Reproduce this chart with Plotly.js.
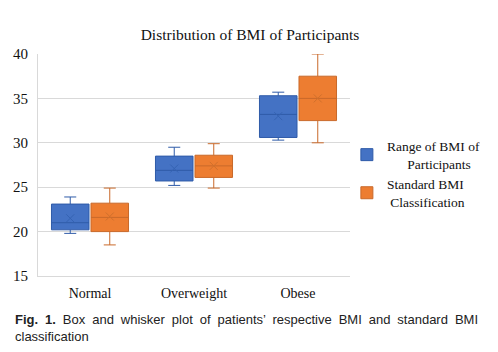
<!DOCTYPE html>
<html>
<head>
<meta charset="utf-8">
<script src="https://cdn.plot.ly/plotly-3.0.1.min.js"></script>
<style>
  html, body { margin: 0; padding: 0; background: #fff; }
  #wrap { position: relative; width: 498px; height: 352px; overflow: hidden; }
  #chart { position: absolute; left: 0; top: 0; width: 498px; height: 352px; }
  #caption { position: absolute; left: 15px; top: 311px; width: 463px;
             font-family: "Liberation Sans", Arial, sans-serif; font-size: 13px; color: #222; line-height: 17px; }
  #caption .l1 { text-align: justify; text-align-last: justify; white-space: nowrap; }
</style>
</head>
<body>
<div id="wrap">
  <div id="chart"></div>
  <div id="caption">
    <div class="l1"><b>Fig. 1.</b> Box and whisker plot of patients’ respective BMI and standard BMI</div>
    <div>classification</div>
  </div>
</div>
<script>
const categories = ["Normal", "Overweight", "Obese"];
const seriesNames = ["Range of BMI of<br>\u00a0\u00a0\u00a0\u00a0\u00a0\u00a0Participants", "Standard BMI<br>\u00a0Classification"];

// Range of BMI of Participants
const rangeMin    = [19.8, 25.2, 30.3];
const rangeQ1     = [20.2, 25.7, 30.6];
const rangeMedian = [21.0, 26.9, 33.2];
const rangeQ3     = [23.1, 28.5, 35.3];
const rangeMax    = [23.9, 29.5, 35.7];
const rangeMean   = [21.5, 27.1, 33.0];

// Standard BMI Classification
const stdMin    = [18.5, 24.9, 30.0];
const stdQ1     = [20.0, 26.1, 32.5];
const stdMedian = [21.6, 27.4, 35.0];
const stdQ3     = [23.2, 28.6, 37.5];
const stdMax    = [24.9, 29.9, 40.0];
const stdMean   = [21.7, 27.4, 35.0];

const fills = ["#4472C4", "#ED7D31"];
const lines = ["#2F5BA8", "#C9692A"];
const meanColors = ["#3563B3", "#D0702C"];

function boxTrace(i, q1, med, q3, lo, hi) {
  return {
    type: "box", name: seriesNames[i], x: categories,
    q1: q1, median: med, q3: q3, lowerfence: lo, upperfence: hi,
    fillcolor: fills[i], line: { color: lines[i], width: 1 },
    whiskerwidth: 0.32, boxpoints: false, offsetgroup: "g" + i,
    hoverinfo: "y"
  };
}
function meanTrace(i, mean) {
  return {
    type: "scatter", mode: "markers", x: categories, y: mean,
    offsetgroup: "g" + i, showlegend: false,
    marker: { symbol: "x-thin", size: 8, line: { color: meanColors[i], width: 1 } },
    hoverinfo: "y"
  };
}

const data = [
  boxTrace(0, rangeQ1, rangeMedian, rangeQ3, rangeMin, rangeMax),
  boxTrace(1, stdQ1, stdMedian, stdQ3, stdMin, stdMax),
  meanTrace(0, rangeMean),
  meanTrace(1, stdMean)
];

const serif = "Liberation Serif, Times New Roman, serif";
const layout = {
  width: 498, height: 352,
  margin: { l: 38, r: 146, t: 54, b: 76 },
  paper_bgcolor: "#fff", plot_bgcolor: "#fff",
  title: { text: "Distribution of BMI of Participants", font: { family: serif, size: 15.5, color: "#111" },
           x: 0.502, xref: "container", xanchor: "center", y: 0.903, yref: "container", yanchor: "middle" },
  boxmode: "group", boxgap: 0.24, boxgroupgap: 0.05,
  scattermode: "group", scattergap: 0.24,
  xaxis: { type: "category", tickfont: { family: serif, size: 14, color: "#111" },
           showgrid: false, showline: true, linecolor: "#D9D9D9", linewidth: 1,
           ticks: "", ticklabelstandoff: 4 },
  yaxis: { range: [15, 40], dtick: 5, tickfont: { family: serif, size: 15, color: "#111" },
           showgrid: true, gridcolor: "#D9D9D9", gridwidth: 1, zeroline: false,
           showline: true, linecolor: "#D9D9D9", linewidth: 1, ticks: "", ticklabelstandoff: 6 },
  legend: { x: 0.99, xanchor: "left", y: 0.655, yanchor: "top",
            font: { family: serif, size: 13.5, color: "#111" }, bgcolor: "rgba(0,0,0,0)",
            itemwidth: 30 },
  showlegend: true
};

Plotly.newPlot("chart", data, layout, { displayModeBar: false, staticPlot: true });
</script>
</body>
</html>
